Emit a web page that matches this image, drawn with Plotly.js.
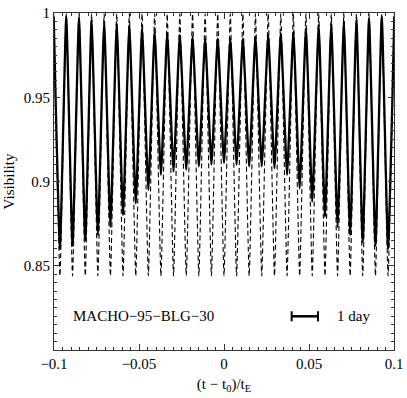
<!DOCTYPE html>
<html>
<head>
<meta charset="utf-8">
<script src="https://cdn.plot.ly/plotly-3.0.1.min.js"></script>
<style>
html, body { margin: 0; padding: 0; background: #fff; }
#plot { width: 407px; height: 398px; }
</style>
</head>
<body>
<div id="plot"></div>
<script>
// times (t - t0)/tE of the maxima and minima of the fringe visibility
var tPeak = [-0.1002, -0.0928, -0.0853, -0.0779, -0.0705, -0.0631, -0.0557, -0.0482, -0.0408, -0.0334,
             -0.0260, -0.0185, -0.0111, -0.0037, 0.0037, 0.0111, 0.0185, 0.0260, 0.0334, 0.0408,
             0.0482, 0.0557, 0.0631, 0.0705, 0.0779, 0.0853, 0.0928, 0.1002];
var tTrough = [-0.0965, -0.0891, -0.0816, -0.0742, -0.0668, -0.0594, -0.0519, -0.0445, -0.0371, -0.0297,
               -0.0222, -0.0148, -0.0074, 0, 0.0074, 0.0148, 0.0222, 0.0297, 0.0371, 0.0445,
               0.0519, 0.0594, 0.0668, 0.0742, 0.0816, 0.0891, 0.0965];

// solid curve
var solidPeak = [0.998, 0.998, 0.997, 0.996, 0.995, 0.994, 0.993, 0.991, 0.989, 0.988,
                 0.987, 0.986, 0.985, 0.985, 0.985, 0.985, 0.986, 0.987, 0.988, 0.989,
                 0.991, 0.993, 0.994, 0.995, 0.996, 0.997, 0.998, 0.998];
var solidTrough = [0.860, 0.862, 0.865, 0.868, 0.873, 0.880, 0.887, 0.895, 0.904, 0.906,
                   0.907, 0.909, 0.910, 0.911, 0.910, 0.909, 0.909, 0.908, 0.904, 0.896,
                   0.888, 0.879, 0.873, 0.868, 0.864, 0.862, 0.860];

// dashed curve
var dashPeak = [0.9995, 0.9995, 0.9995, 0.9995, 0.9995, 0.9995, 0.9995, 0.9995, 0.9995, 0.9995,
                0.9995, 0.9995, 0.9995, 0.9995, 0.9995, 0.9995, 0.9995, 0.9995, 0.9995, 0.9995,
                0.9995, 0.9995, 0.9995, 0.9995, 0.9995, 0.9995, 0.9995, 0.9995];
var dashTrough = [0.844, 0.844, 0.844, 0.844, 0.844, 0.844, 0.844, 0.844, 0.844, 0.844,
                  0.844, 0.844, 0.844, 0.844, 0.844, 0.844, 0.844, 0.844, 0.844, 0.844,
                  0.844, 0.844, 0.844, 0.844, 0.844, 0.844, 0.844];

// 1 day scale bar
var barX = [0.0398, 0.0553];
var barY = 0.82;
var label = "MACHO\u221295\u2212BLG\u221230";
var labelX = -0.0476;
var dayLabel = "1 day";
var dayLabelX = 0.0653;

// put peaks and troughs in time order
function zigzag(peak, trough) {
  var x = [], y = [];
  for (var i = 0; i < tPeak.length; i++) {
    x.push(tPeak[i]); y.push(peak[i]);
    if (i < tTrough.length) { x.push(tTrough[i]); y.push(trough[i]); }
  }
  return {x: x, y: y};
}

var dashed = zigzag(dashPeak, dashTrough);
var solid = zigzag(solidPeak, solidTrough);

var font = {family: "Liberation Serif, Times New Roman, serif", size: 15, color: "#000"};

var data = [
  {
    x: dashed.x, y: dashed.y,
    type: "scatter", mode: "lines",
    line: {color: "#000", width: 1.1, dash: "5px,3px", shape: "spline", smoothing: 0.4},
    hoverinfo: "skip"
  },
  {
    x: solid.x, y: solid.y,
    type: "scatter", mode: "lines",
    line: {color: "#000", width: 2.3, shape: "spline", smoothing: 0.4},
    hoverinfo: "skip"
  },
  {
    x: barX, y: [barY, barY],
    type: "scatter", mode: "lines",
    line: {color: "#000", width: 2.5},
    hoverinfo: "skip"
  }
];

var layout = {
  width: 407,
  height: 398,
  margin: {l: 54, r: 13, t: 13, b: 48},
  showlegend: false,
  paper_bgcolor: "#fff",
  plot_bgcolor: "#fff",
  font: font,
  xaxis: {
    range: [-0.1, 0.1],
    tickvals: [-0.1, -0.05, 0, 0.05, 0.1],
    ticktext: ["\u22120.1", "\u22120.05", "0", "0.05", "0.1"],
    ticks: "inside", ticklen: 6, tickcolor: "#333",
    minor: {dtick: 0.005, ticks: "inside", ticklen: 3, tickcolor: "#333"},
    showline: true, linecolor: "#333", linewidth: 1, mirror: "allticks",
    showgrid: false, zeroline: false,
    title: {text: "(t \u2212 t<sub>0</sub>)/t<sub>E</sub>", font: font, standoff: 7}
  },
  yaxis: {
    range: [0.8, 1.0],
    tickvals: [0.85, 0.9, 0.95, 1],
    ticktext: ["0.85", "0.9", "0.95", "1"],
    ticks: "inside", ticklen: 6, tickcolor: "#333",
    minor: {dtick: 0.005, ticks: "inside", ticklen: 3, tickcolor: "#333"},
    showline: true, linecolor: "#333", linewidth: 1, mirror: "allticks",
    showgrid: false, zeroline: false,
    title: {text: "Visibility", font: font, standoff: 5}
  },
  shapes: [
    {type: "line", xref: "x", yref: "y", x0: barX[0], x1: barX[0], y0: barY - 0.003, y1: barY + 0.003,
     line: {color: "#000", width: 2}},
    {type: "line", xref: "x", yref: "y", x0: barX[1], x1: barX[1], y0: barY - 0.003, y1: barY + 0.003,
     line: {color: "#000", width: 2}}
  ],
  annotations: [
    {x: labelX, y: barY, xref: "x", yref: "y", text: label, showarrow: false, font: font},
    {x: dayLabelX, y: barY, xref: "x", yref: "y", text: dayLabel, showarrow: false, font: font, xanchor: "left"}
  ]
};

Plotly.newPlot("plot", data, layout, {displayModeBar: false, staticPlot: true});
</script>
</body>
</html>
